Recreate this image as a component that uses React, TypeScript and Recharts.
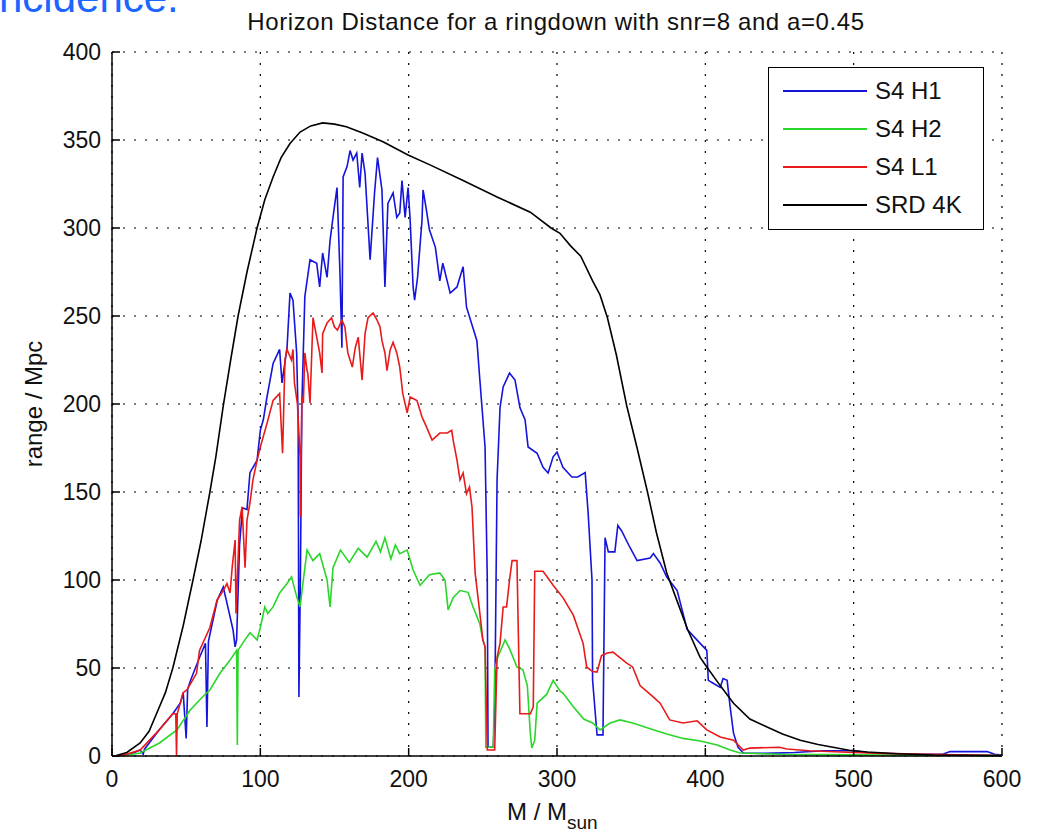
import { LineChart, Line, XAxis, YAxis, CartesianGrid, Legend, Label } from 'recharts'

const FONT = '"Liberation Sans", Arial, Helvetica, sans-serif'

const massTicks = [0, 100, 200, 300, 400, 500, 600]
const rangeTicks = [0, 50, 100, 150, 200, 250, 300, 350, 400]

const seriesNames = ['S4 H1', 'S4 H2', 'S4 L1', 'SRD 4K']
const seriesColors = ['#1414dc', '#2ad62a', '#e81a1a', '#000000']

// [M / Msun, range / Mpc]
const h1Points = [
  [0, 0], [5, 0.3], [12, 1], [19, 3.4], [21, 1], [22, 4], [32, 15], [41, 24], [46, 30], [48, 36],
  [50, 10], [51, 38], [53, 43], [59, 56], [63, 64], [64, 16.5], [65, 65], [67, 73], [71, 88.6], [75, 96],
  [78, 85], [81.6, 71.6], [83, 62], [84, 66], [86, 120], [88, 141], [91, 140], [93, 161], [97.8, 168], [100, 185],
  [102, 191], [104.5, 204], [108.6, 223], [113, 231], [114.6, 212], [118, 232], [120, 263], [122, 259], [124.5, 229], [125.5, 191],
  [126, 33.5], [127, 100], [128, 200], [130, 261], [133.5, 282], [138, 280], [140, 266.5], [142, 285.8], [145, 272], [147, 293],
  [149, 306], [151.7, 323], [153.7, 274], [155, 232], [155.8, 329], [158.5, 335], [160.5, 344], [162.5, 338.6], [165, 342.6], [167, 323],
  [168.6, 342.6], [170.6, 331], [174, 282], [177, 320], [179, 340], [182, 321.6], [184, 266.5], [186, 314], [189.5, 320], [192, 306],
  [194, 308.5], [195.5, 327], [197.6, 306], [199.6, 323], [201, 304.5], [203, 266.5], [204, 259], [206, 272], [209, 304.5], [209.7, 321.6],
  [212, 310], [214, 299], [218, 289], [221, 270], [223, 280], [228, 263], [232.6, 266.5], [236.7, 278], [239, 255], [246, 236],
  [248, 213.6], [251.5, 175.6], [253, 100], [253.5, 5], [257, 5], [258, 24], [259.6, 157], [261.6, 198], [263.7, 209.7], [268, 217.6],
  [271.7, 213.6], [275, 198], [278.5, 191], [280.5, 175.6], [286.6, 172], [290.6, 164], [294, 160.8], [297.4, 170], [300, 172.7], [304, 164],
  [310, 158.5], [314, 158.5], [319, 161], [321, 138], [323.6, 100], [324, 43], [327, 12], [331, 12], [332.4, 124], [334.6, 116],
  [339, 116], [341, 131], [343.5, 128], [349, 118.75], [354, 111], [362.8, 112.5], [365, 115], [369.5, 109.7], [374, 101.7], [381, 94],
  [387.7, 72], [396.5, 64], [401, 60], [402, 43], [405, 41.5], [410, 39], [412, 44], [414.7, 43], [416.7, 28], [419, 13],
  [422, 5], [425.5, 1.7], [440, 1.5], [460, 2], [480, 3], [500, 3], [510, 2], [530, 1], [560, 1], [565, 2.5],
  [590, 2.5], [595, 1], [600, 0.5],
]

const h2Points = [
  [0, 0], [8, 0.3], [19, 1.7], [32, 7.4], [43.8, 14.8], [52.6, 26], [61, 33.5], [66, 37.5], [72.8, 47], [79.6, 54.5],
  [84, 60], [84.5, 6.25], [85, 60], [88, 64], [93, 70], [97.8, 66], [100, 73], [103, 84.7], [105, 81], [108.6, 84.7],
  [113, 92.6], [118, 98], [121, 101.7], [124.7, 90], [126.8, 84.7], [129, 100], [131.5, 117], [135.5, 111], [140, 115], [145, 100],
  [147, 84.7], [149, 107], [154, 117], [160, 110], [166, 118], [172, 113], [178, 122], [181, 116], [184, 124], [188, 112],
  [191, 120], [194, 115], [199, 117], [203, 105.7], [207.7, 97], [214, 103], [221, 104], [224.5, 100], [226.6, 83], [230, 90],
  [234.6, 94], [240, 93], [243.4, 84.7], [248, 75], [250, 66], [251.5, 62], [252, 5], [257, 5], [258, 49], [260, 56],
  [265, 66], [268, 61], [273, 50.6], [277, 49], [280, 40], [282, 13], [283, 4.5], [285, 9], [286.6, 30], [293, 35],
  [297.4, 43], [302, 37], [304, 35.8], [311, 28], [318, 21], [324, 18.75], [329, 14.8], [335.8, 18.75], [342.5, 20.5], [351, 18.75],
  [362.8, 15.5], [374, 12.5], [385, 10], [396.5, 8.5], [408, 6.25], [416.7, 3.4], [423.5, 1.7], [450, 1], [480, 0.8], [520, 0.5],
  [600, 0.2],
]

const l1Points = [
  [0, 0], [8, 0.5], [19, 3.4], [32, 15], [41, 24], [43, 24], [43.5, 0], [44, 24], [48, 36], [50.5, 37.5],
  [57, 47], [59, 60], [66, 73], [70.8, 88.6], [75, 94], [77.5, 98], [79.6, 92.6], [81, 107], [83, 122.7], [83.6, 81],
  [86, 134], [87.7, 141.5], [89.7, 107], [91, 134], [93, 143.75], [95, 156.8], [97.8, 168], [100, 175.6], [104.5, 189], [108.6, 202],
  [113, 206], [115, 172], [116.6, 225], [118, 231], [121, 225], [122, 231], [123, 212], [125, 200], [126.8, 170], [127, 136],
  [128, 204], [129, 200.6], [130, 229], [131.5, 219], [132, 217.6], [133.5, 200.6], [135.5, 249], [138, 238], [140, 229], [141.6, 217.6],
  [142, 240], [145, 246], [148, 249], [150, 243.75], [152, 242], [155, 247.7], [157, 243.75], [159, 229], [162, 221], [164, 232],
  [166, 238], [168.6, 213.6], [170.6, 240], [172.6, 249], [176, 251.7], [178.7, 247.7], [180.7, 243.75], [182, 236], [184, 229], [185.4, 219],
  [187.5, 230.7], [189.5, 235], [192, 229], [194, 221], [196, 206], [199, 195], [201, 204], [205.6, 202], [209, 192.6], [212, 187],
  [215.8, 179.5], [221, 183.5], [226, 183.5], [229, 185], [230, 179.5], [232.6, 168], [234.6, 156.8], [236.7, 160.8], [239, 149], [241, 152.8],
  [242.7, 141.5], [244.8, 104], [248, 81], [250, 66], [251.5, 62], [253, 3.4], [258, 3.4], [259.6, 56], [261.6, 64], [263.7, 84.7],
  [266, 84.7], [268, 100], [269.7, 111], [273, 111], [275, 24], [282, 24], [284, 28], [285, 105], [290.6, 105], [297.4, 97],
  [304, 90], [311, 80], [317.6, 64], [320, 50.6], [324, 48], [327, 47.7], [330, 57], [333.8, 58.5], [337.8, 59], [347, 52.8],
  [351, 50.6], [356, 40], [365, 33.5], [369.5, 30], [376, 20.5], [385, 18.75], [394.5, 20], [401, 14.8], [410, 10.8], [419, 9],
  [425.5, 3.4], [430, 4.5], [450, 5], [455, 4], [470, 3], [500, 2], [520, 1.5], [550, 1], [600, 0.3],
]

const srdPoints = [
  [0, 0], [3, 0.3], [10, 2], [19, 7.4], [25, 14], [30, 24], [36, 36], [41, 50], [48, 74], [54.6, 100],
  [60, 122], [66, 150], [70, 170], [75, 199], [80, 225], [85, 250], [91, 275], [97.8, 300], [103, 316], [108.6, 329],
  [114, 340], [120, 348], [126.8, 354.5], [134, 358], [142, 359.7], [150, 359], [158, 357.5], [169, 354], [182.7, 349], [199.6, 341.5],
  [214, 336], [236.7, 327], [259.6, 317.6], [282, 309], [296, 300], [302, 297], [309, 290], [316, 284], [324, 270], [329, 262],
  [334, 249], [340, 228], [347, 199], [354, 175], [361, 150], [367, 127], [374, 104], [381, 88], [388, 72], [396.5, 56],
  [401, 50.6], [410, 40], [419, 30], [430, 21], [441.6, 16.5], [452, 12.5], [464, 9], [476, 6.5], [486, 5], [497, 3.3],
  [509, 2.3], [530, 1.3], [553.6, 0.6], [600, 0.2],
]

const toRows = (pts: number[][]) => pts.map(([m, r]) => ({ m, r }))
const seriesData = [h1Points, h2Points, l1Points, srdPoints].map(toRows)

// MATLAB style: ticks point into the axes box
function BottomTick({ x, y, payload }: any) {
  return (
    <g>
      <line x1={x} x2={x} y1={y} y2={y - 8} stroke="#000" strokeWidth={1.5} />
      <text x={x} y={y + 31} textAnchor="middle" fontSize={23} fontFamily={FONT} fill="#111">{payload.value}</text>
    </g>
  )
}

function TopTick({ x, y }: any) {
  return <line x1={x} x2={x} y1={y} y2={y + 8} stroke="#000" strokeWidth={1.5} />
}

function LeftTick({ x, y, payload }: any) {
  return (
    <g>
      <line x1={x} x2={x + 8} y1={y} y2={y} stroke="#000" strokeWidth={1.5} />
      <text x={x - 11} y={y} dy="0.36em" textAnchor="end" fontSize={23} fontFamily={FONT} fill="#111">{payload.value}</text>
    </g>
  )
}

function RightTick({ x, y }: any) {
  return <line x1={x} x2={x - 8} y1={y} y2={y} stroke="#000" strokeWidth={1.5} />
}

function MassLabel({ viewBox }: any) {
  const cx = viewBox.x + viewBox.width / 2
  return (
    <text x={cx - 50} y={viewBox.y + 64} fontSize={24} fontFamily={FONT} fill="#111">
      <tspan>M / M</tspan>
      <tspan dy={9} fontSize={19}>sun</tspan>
    </text>
  )
}

function RangeLabel({ viewBox }: any) {
  const cy = viewBox.y + viewBox.height / 2
  return (
    <text x={42} y={cy} transform={`rotate(-90, 42, ${cy})`} textAnchor="middle" fontSize={24} fontFamily={FONT} fill="#111">
      range / Mpc
    </text>
  )
}

function LegendBox({ payload }: any) {
  const items = (payload || []).filter((p: any) => seriesNames.includes(p.value))
  return (
    <div style={{ width: 216, height: 163, boxSizing: 'border-box', border: '1.5px solid #000', background: '#fff', paddingTop: 4 }}>
      {items.map((p: any) => (
        <div key={p.value} style={{ height: 38, display: 'flex', alignItems: 'center' }}>
          <div style={{ marginLeft: 14, width: 84, borderTop: `2px solid ${p.color}` }} />
          <span style={{ marginLeft: 8, fontSize: 24, fontFamily: FONT, color: '#111', lineHeight: '38px' }}>{p.value}</span>
        </div>
      ))}
    </div>
  )
}

export default function App() {
  return (
    <div style={{ position: 'absolute', left: 0, top: 0, width: 1038, height: 836, background: '#fff', overflow: 'hidden' }}>
      <svg width={1038} height={40} style={{ position: 'absolute', left: 0, top: 0 }}>
        <text x={-1} y={12} fontSize={42} fontFamily={FONT} fill="#1a66ff">ncidence.</text>
        <text x={556} y={30} textAnchor="middle" fontSize={24} letterSpacing={0.6} fontFamily={FONT} fill="#111">
          Horizon Distance for a ringdown with snr=8 and a=0.45
        </text>
      </svg>
      <LineChart width={1038} height={836} margin={{ top: 52, right: 36, bottom: 40, left: 52 }}>
        <CartesianGrid stroke="#000" strokeDasharray="2 9" strokeWidth={1.2} />
        <XAxis
          type="number"
          dataKey="m"
          domain={[0, 600]}
          ticks={massTicks}
          height={40}
          tickSize={0}
          tickMargin={0}
          tickLine={false}
          axisLine={{ stroke: '#000', strokeWidth: 1.5 }}
          tick={<BottomTick />}
        >
          <Label content={<MassLabel />} />
        </XAxis>
        <XAxis
          xAxisId="top"
          orientation="top"
          type="number"
          dataKey="m"
          domain={[0, 600]}
          ticks={massTicks}
          height={0}
          tickSize={0}
          tickMargin={0}
          tickLine={false}
          axisLine={{ stroke: '#000', strokeWidth: 1.5 }}
          tick={<TopTick />}
        />
        <YAxis
          type="number"
          domain={[0, 400]}
          ticks={rangeTicks}
          width={60}
          tickSize={0}
          tickMargin={0}
          tickLine={false}
          axisLine={{ stroke: '#000', strokeWidth: 1.5 }}
          tick={<LeftTick />}
        >
          <Label content={<RangeLabel />} />
        </YAxis>
        <YAxis
          yAxisId="right"
          orientation="right"
          type="number"
          domain={[0, 400]}
          ticks={rangeTicks}
          width={0}
          tickSize={0}
          tickMargin={0}
          tickLine={false}
          axisLine={{ stroke: '#000', strokeWidth: 1.5 }}
          tick={<RightTick />}
        />
        <Legend
          layout="horizontal"
          verticalAlign="middle"
          align="center"
          content={<LegendBox />}
          wrapperStyle={{ left: 768, top: 67, width: 216, height: 163 }}
        />
        {/* invisible series so the top and right frame axes get drawn */}
        <Line
          xAxisId="top"
          yAxisId="right"
          data={seriesData[3]}
          dataKey="r"
          stroke="none"
          dot={false}
          activeDot={false}
          legendType="none"
          isAnimationActive={false}
        />
        {seriesData.map((rows, i) => (
          <Line
            key={seriesNames[i]}
            name={seriesNames[i]}
            data={rows}
            dataKey="r"
            type="linear"
            stroke={seriesColors[i]}
            strokeWidth={1.6}
            dot={false}
            activeDot={false}
            isAnimationActive={false}
          />
        ))}
      </LineChart>
    </div>
  )
}
